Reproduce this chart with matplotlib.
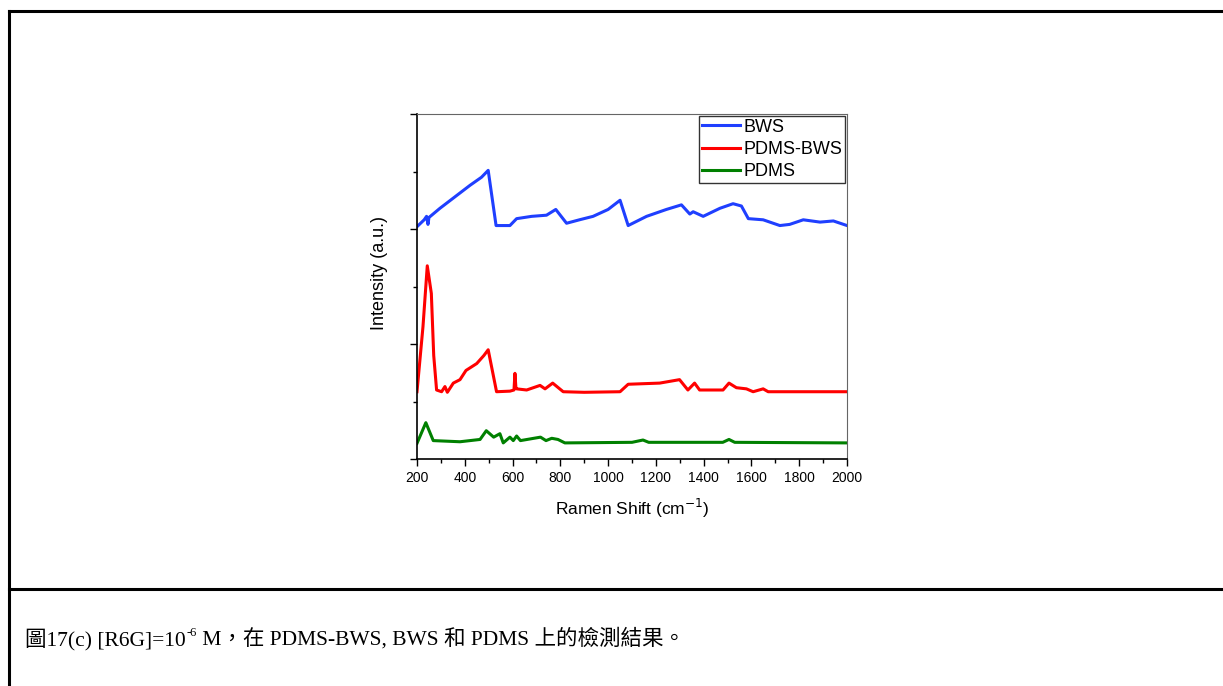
import matplotlib
matplotlib.use("Agg")
import matplotlib.pyplot as plt
from matplotlib.ticker import MultipleLocator, NullFormatter

# Raman spectra (x in cm^-1, intensity in arbitrary units)
bws_x = [200, 230, 240, 246, 250, 296, 359, 422, 470, 498, 531, 589, 617, 680, 742, 781,
         826, 880, 937, 1000, 1050, 1084, 1161, 1244, 1307, 1342, 1356, 1398, 1468,
         1523, 1558, 1587, 1649, 1719, 1760, 1817, 1887, 1943, 2000]
bws_y = [2.02, 2.08, 2.11, 2.04, 2.10, 2.18, 2.28, 2.38, 2.45, 2.51, 2.03, 2.03, 2.09, 2.11,
         2.12, 2.17, 2.05, 2.08, 2.11, 2.17, 2.25, 2.03, 2.11, 2.17, 2.21, 2.13, 2.15, 2.11,
         2.18, 2.22, 2.20, 2.09, 2.08, 2.03, 2.04, 2.08, 2.06, 2.07, 2.03]

pdms_bws_x = [200, 225, 243, 260, 270, 282, 303, 317, 327, 352, 380, 405, 450, 480, 498,
              533, 589, 606, 610, 614, 617, 659, 715, 736, 768, 812, 900, 1050, 1084,
              1216, 1299, 1334, 1362, 1383, 1481, 1506, 1537, 1579, 1607, 1649, 1670, 2000]
pdms_bws_y = [0.585, 1.15, 1.68, 1.44, 0.90, 0.60, 0.585, 0.63, 0.58, 0.66, 0.69, 0.77,
              0.83, 0.90, 0.95, 0.585, 0.59, 0.60, 0.745, 0.62, 0.61, 0.60, 0.64, 0.61,
              0.66, 0.585, 0.58, 0.585, 0.65, 0.66, 0.69, 0.60, 0.66, 0.60, 0.60, 0.66,
              0.62, 0.61, 0.585, 0.61, 0.585, 0.585]

pdms_x = [200, 237, 268, 380, 464, 490, 521, 547, 561, 589, 603, 617, 633, 717, 740, 764,
          790, 819, 1100, 1146, 1170, 1480, 1506, 1530, 2000]
pdms_y = [0.136, 0.316, 0.16, 0.15, 0.17, 0.246, 0.19, 0.22, 0.14, 0.19, 0.16, 0.20, 0.16,
          0.19, 0.16, 0.18, 0.17, 0.14, 0.145, 0.165, 0.145, 0.145, 0.17, 0.145, 0.14]

# caption pieces: text before the superscript, the superscript, text after
caption_parts = ["圖17(c) [R6G]=10", "-6", " M，在 PDMS-BWS, BWS 和 PDMS 上的檢測結果。"]

W, H = 1223, 686
fig = plt.figure(figsize=(W / 100, H / 100), dpi=100)

# table-like frame around the figure
fig.add_artist(plt.Line2D([9 / W, 1], [1 - 11 / H, 1 - 11 / H], color="black", lw=2.2))
fig.add_artist(plt.Line2D([9 / W, 9 / W], [0, 1 - 11 / H], color="black", lw=2.2))
fig.add_artist(plt.Line2D([9 / W, 1], [1 - 589 / H, 1 - 589 / H], color="black", lw=2.2))

ax = fig.add_axes([417 / W, 1 - 459 / H, 430 / W, 345 / H])
ax.plot(bws_x, bws_y, color="#1f3fff", lw=2.2, label="BWS")
ax.plot(pdms_bws_x, pdms_bws_y, color="#ff0000", lw=2.2, label="PDMS-BWS")
ax.plot(pdms_x, pdms_y, color="#008000", lw=2.2, label="PDMS")

ax.set_xlim(200, 2000)
ax.set_ylim(0, 3)
ax.xaxis.set_major_locator(MultipleLocator(200))
ax.xaxis.set_minor_locator(MultipleLocator(100))
ax.yaxis.set_major_locator(MultipleLocator(1))
ax.yaxis.set_minor_locator(MultipleLocator(0.5))
ax.yaxis.set_major_formatter(NullFormatter())
ax.tick_params(which="major", direction="out", length=5, width=1, labelsize=10)
ax.tick_params(which="minor", direction="out", length=3, width=1)
for side in ["top", "right"]:
    ax.spines[side].set_color("#666666")
ax.spines["left"].set_linewidth(1.2)
ax.spines["bottom"].set_linewidth(1.2)

for lab in ax.get_xticklabels():
    lab.set_family("Liberation Sans")
ax.set_xlabel("Ramen Shift (cm$^{-1}$)", fontsize=12.5, family="Liberation Sans", labelpad=9)
ax.set_ylabel("Intensity (a.u.)", fontsize=13, family="Liberation Sans")
ax.yaxis.set_label_coords(-0.068, 0.54)

leg = ax.legend(loc="upper right", frameon=True, fancybox=False,
                handlelength=2.1, handletextpad=0.2, borderpad=0.15, labelspacing=0.3,
                borderaxespad=0.1, prop={"family": "Liberation Sans", "size": 13})
leg.get_frame().set_edgecolor("black")
leg.get_frame().set_linewidth(1.0)

# caption written in pieces so the CJK fallback works and -6 sits raised
cap_font = ["Liberation Serif", "Noto Sans CJK TC"]
renderer = fig.canvas.get_renderer()
x0 = 25 / W
y0 = 1 - 645 / H
t1 = fig.text(x0, y0, caption_parts[0], fontsize=15.5, va="baseline", ha="left", family=cap_font)
w1 = t1.get_window_extent(renderer).width / W
t2 = fig.text(x0 + w1 + 1 / W, y0 + 9 / H, caption_parts[1], fontsize=9, va="baseline",
              ha="left", family=cap_font)
w2 = t2.get_window_extent(renderer).width / W
fig.text(x0 + w1 + w2 + 1 / W, y0, caption_parts[2], fontsize=15.5, va="baseline", ha="left",
         family=cap_font)

fig.savefig("out.png", dpi=100)
